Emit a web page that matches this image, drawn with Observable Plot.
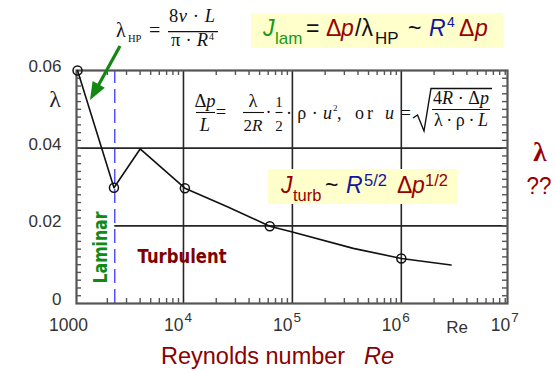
<!DOCTYPE html>
<html><head><meta charset="utf-8">
<script src="https://cdn.jsdelivr.net/npm/d3@7"></script>
<script src="https://cdn.jsdelivr.net/npm/@observablehq/plot@0.6"></script>
<style>body{margin:0;background:#fff;overflow:hidden}#chart{width:555px;height:371px}</style>
</head><body><div id="chart"></div>
<script>
// ---- data ----
const reynolds = [1065, 2300, 4000, 10300, 25000, 62000, 100000, 362000, 1000000, 2860000];
const lambda   = [0.0600, 0.0298, 0.0398, 0.0297, 0.0250, 0.0199, 0.0184, 0.0142, 0.0116, 0.0099];
const circleRe = [1065, 2300, 10300, 62000, 1000000];
const circleLambda = [0.0600, 0.0298, 0.0297, 0.0199, 0.0116];
const gridRe = [1e4, 1e5, 1e6];
const gridLambdaFull = [0.04];
const gridLambdaPart = [0.02];
const laminarLimit = 2340;
const decadeTicks = [1e4, 1e5, 1e6, 1e7];
const decadeBase = ["10", "10", "10", "10"];
const decadeExp = ["4", "5", "6", "7"];
const firstTick = [1000];
const firstTickLabel = ["1000"];
const yTickValues = [0, 0.02, 0.04, 0.06];
const yTickLabels = ["0", "0.02", "0.04", "0.06"];
const xDomain = [1042, 9.44e6];
const yDomain = [0, 0.06];

const W = 555, H = 371, mL = 76, mR = 48, mT = 70, mB = 68;
const SANS = "Liberation Sans, Arial, sans-serif";
const SERIF = "Liberation Serif, Times New Roman, serif";
const RED = "#990000", GREEN = "#169b16", BLUE = "#1414a0";

const lineData = reynolds.map((re, i) => ({re, lam: lambda[i]}));
const circleData = circleRe.map((re, i) => ({re, lam: circleLambda[i]}));
const minorX = [1e3, 1e4, 1e5, 1e6].flatMap(d => [2,3,4,5,6,7,8,9].map(m => m * d))
  .filter(v => v > xDomain[0] && v < xDomain[1]);
const minorY = d3.range(1, 30).map(i => i * 0.002);
const tickLen = 5;
const fx = Math.pow(10, Math.log10(xDomain[1] / xDomain[0]) / (W - mL - mR) * tickLen);
const dyv = (yDomain[1] - yDomain[0]) / (H - mT - mB) * tickLen;
const yTicks = yTickValues.map((v, i) => ({v, label: yTickLabels[i]}));
const decades = decadeTicks.map((v, i) => ({v, base: decadeBase[i], exp: decadeExp[i]}));

const tickStyle = {stroke: "#555", strokeWidth: 1.4};
const plot = Plot.plot({
  width: W, height: H, marginLeft: mL, marginRight: mR, marginTop: mT, marginBottom: mB,
  x: {type: "log", domain: xDomain, axis: null},
  y: {domain: yDomain, axis: null},
  style: {background: "white", overflow: "visible"},
  marks: [
    Plot.ruleX(gridRe, {y1: yDomain[0], y2: yDomain[1], stroke: "#262626", strokeWidth: 1.6}),
    Plot.ruleY(gridLambdaFull, {x1: xDomain[0], x2: xDomain[1], stroke: "#262626", strokeWidth: 1.6}),
    Plot.ruleY(gridLambdaPart, {x1: laminarLimit, x2: xDomain[1], stroke: "#262626", strokeWidth: 1.6}),
    Plot.ruleX([laminarLimit], {y1: yDomain[0], y2: yDomain[1], stroke: "#4646ff", strokeWidth: 1.4, strokeDasharray: "14,6"}),
    Plot.ruleX(minorX, {y1: yDomain[0], y2: yDomain[0] + dyv, ...tickStyle}),
    Plot.ruleX(minorX, {y1: yDomain[1] - dyv, y2: yDomain[1], ...tickStyle}),
    Plot.ruleY(minorY, {x1: xDomain[0], x2: xDomain[0] * fx, ...tickStyle}),
    Plot.ruleY(minorY, {x1: xDomain[1] / fx, x2: xDomain[1], ...tickStyle}),
    Plot.frame({stroke: "#555", strokeWidth: 2.2}),
    Plot.line(lineData, {x: "re", y: "lam", stroke: "#111", strokeWidth: 1.6}),
    Plot.dot(circleData, {x: "re", y: "lam", r: 4.5, stroke: "#111", strokeWidth: 1.5, fill: "none"}),
    Plot.text(yTicks, {x: () => xDomain[0], y: "v", text: "label", dx: -15, dy: -4, textAnchor: "end",
      fontSize: 17, fontFamily: SANS, fill: "#333"}),
    Plot.text(firstTick, {x: d => d, y: () => 0, text: (d, i) => firstTickLabel[i], dx: -6, dy: 22,
      textAnchor: "middle", fontSize: 17.5, fontFamily: SANS, fill: "#333"}),
    Plot.text(decades, {x: "v", y: () => 0, text: "base", dy: 22, textAnchor: "end",
      fontSize: 17.5, fontFamily: SANS, fill: "#333"}),
    Plot.text(decades, {x: "v", y: () => 0, text: "exp", dx: 1, dy: 14, textAnchor: "start",
      fontSize: 13.5, fontFamily: SANS, fill: "#333"})
  ]
});
document.getElementById("chart").appendChild(plot);

// ---- annotations ----
const svg = d3.select(plot);
const ann = svg.append("g");
function txt(x, y, s, o = {}) {
  const t = ann.append("text").attr("x", x).attr("y", y).text(s)
    .style("font-family", o.family || SERIF).style("font-size", (o.size || 16) + "px")
    .style("fill", o.fill || "#111").style("font-style", o.italic ? "italic" : "normal")
    .style("font-weight", o.bold ? "bold" : "normal").attr("text-anchor", o.anchor || "start");
  if (o.len) t.attr("textLength", o.len).attr("lengthAdjust", o.adjust || "spacing");
  return t;
}
function rich(x, y, parts, o = {}) {
  const t = txt(x, y, "", o);
  parts.forEach(([s, p = {}]) => {
    const ts = t.append("tspan").text(s);
    if (p.italic) ts.style("font-style", "italic");
    if (p.fill) ts.style("fill", p.fill);
    if (p.size) ts.style("font-size", p.size + "px");
    if (p.dy) ts.attr("dy", p.dy);
  });
  return t;
}
function hline(x1, x2, y, w = 1.1, c = "#111") {
  ann.append("line").attr("x1", x1).attr("x2", x2).attr("y1", y).attr("y2", y)
    .attr("stroke", c).attr("stroke-width", w);
}

// y label
txt(55, 107, "λ", {size: 24, anchor: "middle", fill: "#222"});
// x axis labels
txt(457, 333, "Re", {family: SANS, size: 17, anchor: "middle", fill: "#333"});
txt(161, 364, "Reynolds number", {family: SANS, size: 23.5, fill: "#8b0000"});
txt(364, 364, "Re", {family: SANS, size: 23.5, fill: "#8b0000", italic: true});

// lambda_HP formula
txt(116, 37, "λ", {size: 20});
txt(128, 42, "HP", {size: 10.5});
txt(149, 37, "=", {size: 20});
rich(169, 22, [["8"], ["ν", {italic: true}], [" · "], ["L", {italic: true}]], {size: 18.5, len: 46});
hline(168, 218, 31.7, 1.3);
rich(171, 46, [["π · "], ["R", {italic: true}]], {size: 18.5, len: 37});
txt(209, 40, "4", {size: 10});

// green arrow
ann.append("line").attr("x1", 120).attr("y1", 46).attr("x2", 98).attr("y2", 86)
  .attr("stroke", "#118811").attr("stroke-width", 3.2);
ann.append("path").attr("d", "M90,100 L104.8,87.7 L92.6,80.9 Z").attr("fill", "#118811");

// J_lam box
ann.append("rect").attr("x", 251).attr("y", 13).attr("width", 252).attr("height", 35).attr("fill", "#ffffcc");
const B1 = 36, S1 = 44, P1 = 27;
txt(263, B1, "J", {family: SANS, size: 23, fill: GREEN, italic: true});
txt(275, S1, "lam", {family: SANS, size: 17, fill: GREEN});
txt(306, B1, "=", {family: SANS, size: 23});
txt(326, B1, "Δ", {family: SANS, size: 23, fill: RED});
txt(341, B1, "p", {family: SANS, size: 23, fill: RED, italic: true});
txt(355, B1, "/λ", {family: SANS, size: 23});
txt(375, S1, "HP", {family: SANS, size: 17});
txt(408, B1, "~", {family: SANS, size: 23});
txt(429, B1, "R", {family: SANS, size: 23, fill: BLUE, italic: true});
txt(447, P1, "4", {family: SANS, size: 14, fill: BLUE});
txt(459, B1, "Δ", {family: SANS, size: 23, fill: RED});
txt(475, B1, "p", {family: SANS, size: 23, fill: RED, italic: true});

// momentum balance formula
rich(205, 107, [["Δ"], ["p", {italic: true}]], {size: 18.5, anchor: "middle"});
hline(196, 215, 112.5);
txt(205, 131, "L", {size: 18.5, italic: true, anchor: "middle"});
txt(221, 118, "=", {size: 18.5, anchor: "middle"});
txt(253, 107, "λ", {size: 18.5, anchor: "middle"});
hline(243, 264, 112.5);
rich(253, 131, [["2"], ["R", {italic: true}]], {size: 17, anchor: "middle"});
txt(268.5, 118, "·", {size: 18, anchor: "middle"});
txt(279, 107, "1", {size: 15, anchor: "middle"});
hline(275.5, 282.5, 112.5);
txt(279, 131, "2", {size: 15, anchor: "middle"});
rich(286, 119, [["· ρ · "], ["u", {italic: true}]], {size: 18, len: 46});
txt(333, 111, "2", {size: 9});
txt(337, 119, ",", {size: 18});
txt(355, 119, "or", {size: 18, len: 18});
rich(385, 119, [["u", {italic: true}], [" ="]], {size: 18, len: 26});
ann.append("path").attr("d", "M413,118 L417.5,115 L424,131 L431,88.5 L492,88.5")
  .attr("fill", "none").attr("stroke", "#111").attr("stroke-width", 1.4);
rich(461, 104, [["4"], ["R", {italic: true}], [" · Δ"], ["p", {italic: true}]], {size: 18, anchor: "middle", len: 56});
hline(432, 490, 109.5);
rich(461, 126, [["λ · ρ · "], ["L", {italic: true}]], {size: 18, anchor: "middle", len: 54});

// J_turb box
ann.append("rect").attr("x", 268).attr("y", 169).attr("width", 190).attr("height", 35).attr("fill", "#ffffcc");
const B2 = 193, S2 = 201, P2 = 186;
txt(281, B2, "J", {family: SANS, size: 23, fill: RED, italic: true});
txt(293, S2, "turb", {family: SANS, size: 16.5, fill: RED});
txt(325, B2, "~", {family: SANS, size: 23});
txt(346, B2, "R", {family: SANS, size: 23, fill: BLUE, italic: true});
txt(364, P2, "5/2", {family: SANS, size: 16.5, fill: BLUE});
txt(397, B2, "Δ", {family: SANS, size: 23, fill: RED});
txt(412, B2, "p", {family: SANS, size: 23, fill: RED, italic: true});
txt(425, P2, "1/2", {family: SANS, size: 16.5, fill: RED});

// region labels
ann.append("text").attr("transform", "translate(106.5,247.5) rotate(-90)")
  .attr("text-anchor", "middle").text("Laminar")
  .style("font-family", "DejaVu Sans, sans-serif").style("font-weight", "bold").style("font-size", "19px")
  .style("fill", "#0f8a17").attr("textLength", 72).attr("lengthAdjust", "spacingAndGlyphs");
txt(137.5, 263, "Turbulent", {family: "DejaVu Sans, sans-serif", bold: true, size: 19, fill: "#800000", len: 89, adjust: "spacingAndGlyphs"});

// right side question
txt(540, 161, "λ", {size: 27, bold: true, anchor: "middle", fill: RED});
txt(539, 194, "??", {family: SANS, size: 23, anchor: "middle", fill: RED, len: 25, adjust: "spacingAndGlyphs"});
</script>
</body></html>
